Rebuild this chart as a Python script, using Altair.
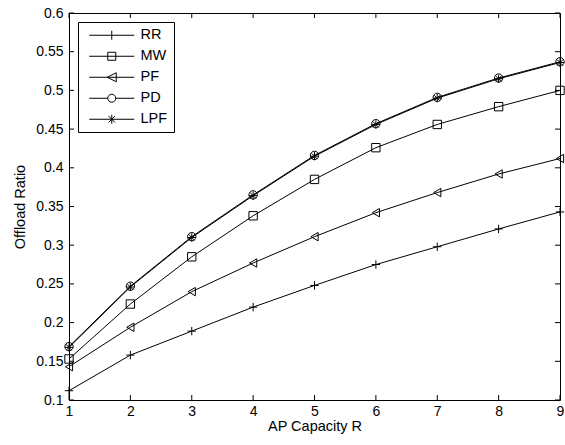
import altair as alt
import pandas as pd

capacity = [1, 2, 3, 4, 5, 6, 7, 8, 9]
series = ["RR", "MW", "PF", "PD", "LPF"]
rr = [0.112, 0.158, 0.189, 0.220, 0.248, 0.275, 0.298, 0.321, 0.343]
mw = [0.153, 0.224, 0.285, 0.338, 0.385, 0.426, 0.456, 0.479, 0.500]
pf = [0.143, 0.194, 0.240, 0.277, 0.311, 0.342, 0.368, 0.392, 0.412]
pd_ = [0.169, 0.247, 0.311, 0.365, 0.416, 0.457, 0.491, 0.516, 0.537]
lpf = [0.168, 0.246, 0.310, 0.364, 0.415, 0.456, 0.490, 0.515, 0.536]
x_ticks = [1, 2, 3, 4, 5, 6, 7, 8, 9]
y_ticks = [0.1, 0.15, 0.2, 0.25, 0.3, 0.35, 0.4, 0.45, 0.5, 0.55, 0.6]

rows = []
for name, vals in zip(series, [rr, mw, pf, pd_, lpf]):
    for c, v in zip(capacity, vals):
        rows.append({"R": c, "ratio": v, "series": name})
df = pd.DataFrame(rows)
xt = pd.DataFrame({"R": x_ticks})
yt = pd.DataFrame({"ratio": y_ticks})

W, H = 491, 387
FONT = "Liberation Sans"
xs = alt.Scale(domain=[1, 9], nice=False, zero=False)
ys = alt.Scale(domain=[0.1, 0.6], nice=False, zero=False)

point_shapes = [
    "M-1,0L1,0M0,-1L0,1",
    "square",
    "triangle-left",
    "circle",
    "M-1,0L1,0M0,-1L0,1M-0.7,-0.7L0.7,0.7M-0.7,0.7L0.7,-0.7",
]
# legend symbols: a line sample with the marker on it
legend_shapes = [
    "M-0.4,0L8.6,0M4.1,-0.9L4.1,0.9",
    "M-0.4,0L8.6,0M3.3,-0.8L4.9,-0.8L4.9,0.8L3.3,0.8Z",
    "M-0.4,0L8.6,0M3.2,0L5,-0.9L5,0.9Z",
    "M-0.4,0L3.3,0M4.9,0L8.6,0M4.9,0A0.8,0.8,0,1,1,3.3,0A0.8,0.8,0,1,1,4.9,0",
    "M-0.4,0L8.6,0M4.1,-0.9L4.1,0.9M3.46,-0.64L4.74,0.64M3.46,0.64L4.74,-0.64",
]

x_axis = alt.Axis(values=x_ticks, title="AP Capacity R", ticks=False, domain=False,
                  grid=False, labelPadding=4, titlePadding=1, labelFlush=False,
                  labelOverlap=False, labelExpr="'' + datum.value")
y_axis = alt.Axis(values=y_ticks, title="Offload Ratio", ticks=False, domain=False,
                  grid=False, labelPadding=6, titlePadding=8, labelFlush=False,
                  labelOverlap=False, labelExpr="'' + datum.value")

base = alt.Chart(df)
lines = base.mark_line(color="black", strokeWidth=1).encode(
    x=alt.X("R:Q", scale=xs, axis=x_axis),
    y=alt.Y("ratio:Q", scale=ys, axis=y_axis),
    detail="series:N",
)
points = base.mark_point(filled=False, color="black", strokeWidth=1, size=70, opacity=1).encode(
    x=alt.X("R:Q", scale=xs, axis=x_axis),
    y=alt.Y("ratio:Q", scale=ys, axis=y_axis),
    shape=alt.Shape("series:N", scale=alt.Scale(domain=series, range=point_shapes), legend=None),
)
legend_layer = base.transform_filter("false").mark_point(
    filled=False, color="black", strokeWidth=1, size=100, opacity=1
).encode(
    x=alt.X("R:Q", scale=xs, axis=x_axis),
    y=alt.Y("ratio:Q", scale=ys, axis=y_axis),
    shape=alt.Shape(
        "series:N",
        scale=alt.Scale(domain=series, range=legend_shapes),
        title=None,
        legend=alt.Legend(
            orient="none", legendX=9, legendY=9, padding=6,
            strokeColor="black", fillColor="white", cornerRadius=0,
            labelFont=FONT, labelFontSize=14.5, labelColor="black",
            labelOffset=42, rowPadding=6, symbolSize=100,
            symbolStrokeWidth=1, symbolStrokeColor="black",
        ),
    ),
)

tick_len = 5
bottom_ticks = alt.Chart(xt).mark_rule(color="black", strokeWidth=1).encode(
    x=alt.X("R:Q", scale=xs, axis=x_axis), y=alt.value(H), y2=alt.value(H - tick_len))
top_ticks = alt.Chart(xt).mark_rule(color="black", strokeWidth=1).encode(
    x=alt.X("R:Q", scale=xs, axis=x_axis), y=alt.value(0), y2=alt.value(tick_len))
left_ticks = alt.Chart(yt).mark_rule(color="black", strokeWidth=1).encode(
    y=alt.Y("ratio:Q", scale=ys, axis=y_axis), x=alt.value(0), x2=alt.value(tick_len))
right_ticks = alt.Chart(yt).mark_rule(color="black", strokeWidth=1).encode(
    y=alt.Y("ratio:Q", scale=ys, axis=y_axis), x=alt.value(W), x2=alt.value(W - tick_len))

chart = alt.layer(
    lines, points, legend_layer, bottom_ticks, top_ticks, left_ticks, right_ticks
).resolve_scale(shape="independent").properties(
    width=W, height=H,
    autosize=alt.AutoSizeParams(type="none"),
    padding={"left": 69, "top": 13, "right": 5, "bottom": 45},
    background="white",
).configure_view(
    stroke="black", strokeWidth=1
).configure_axis(
    labelFont=FONT, labelFontSize=14, labelColor="black",
    titleFont=FONT, titleFontSize=14.5, titleFontWeight="normal", titleColor="black",
)

chart.save("out.html", embed_options={"renderer": "svg", "actions": False})
